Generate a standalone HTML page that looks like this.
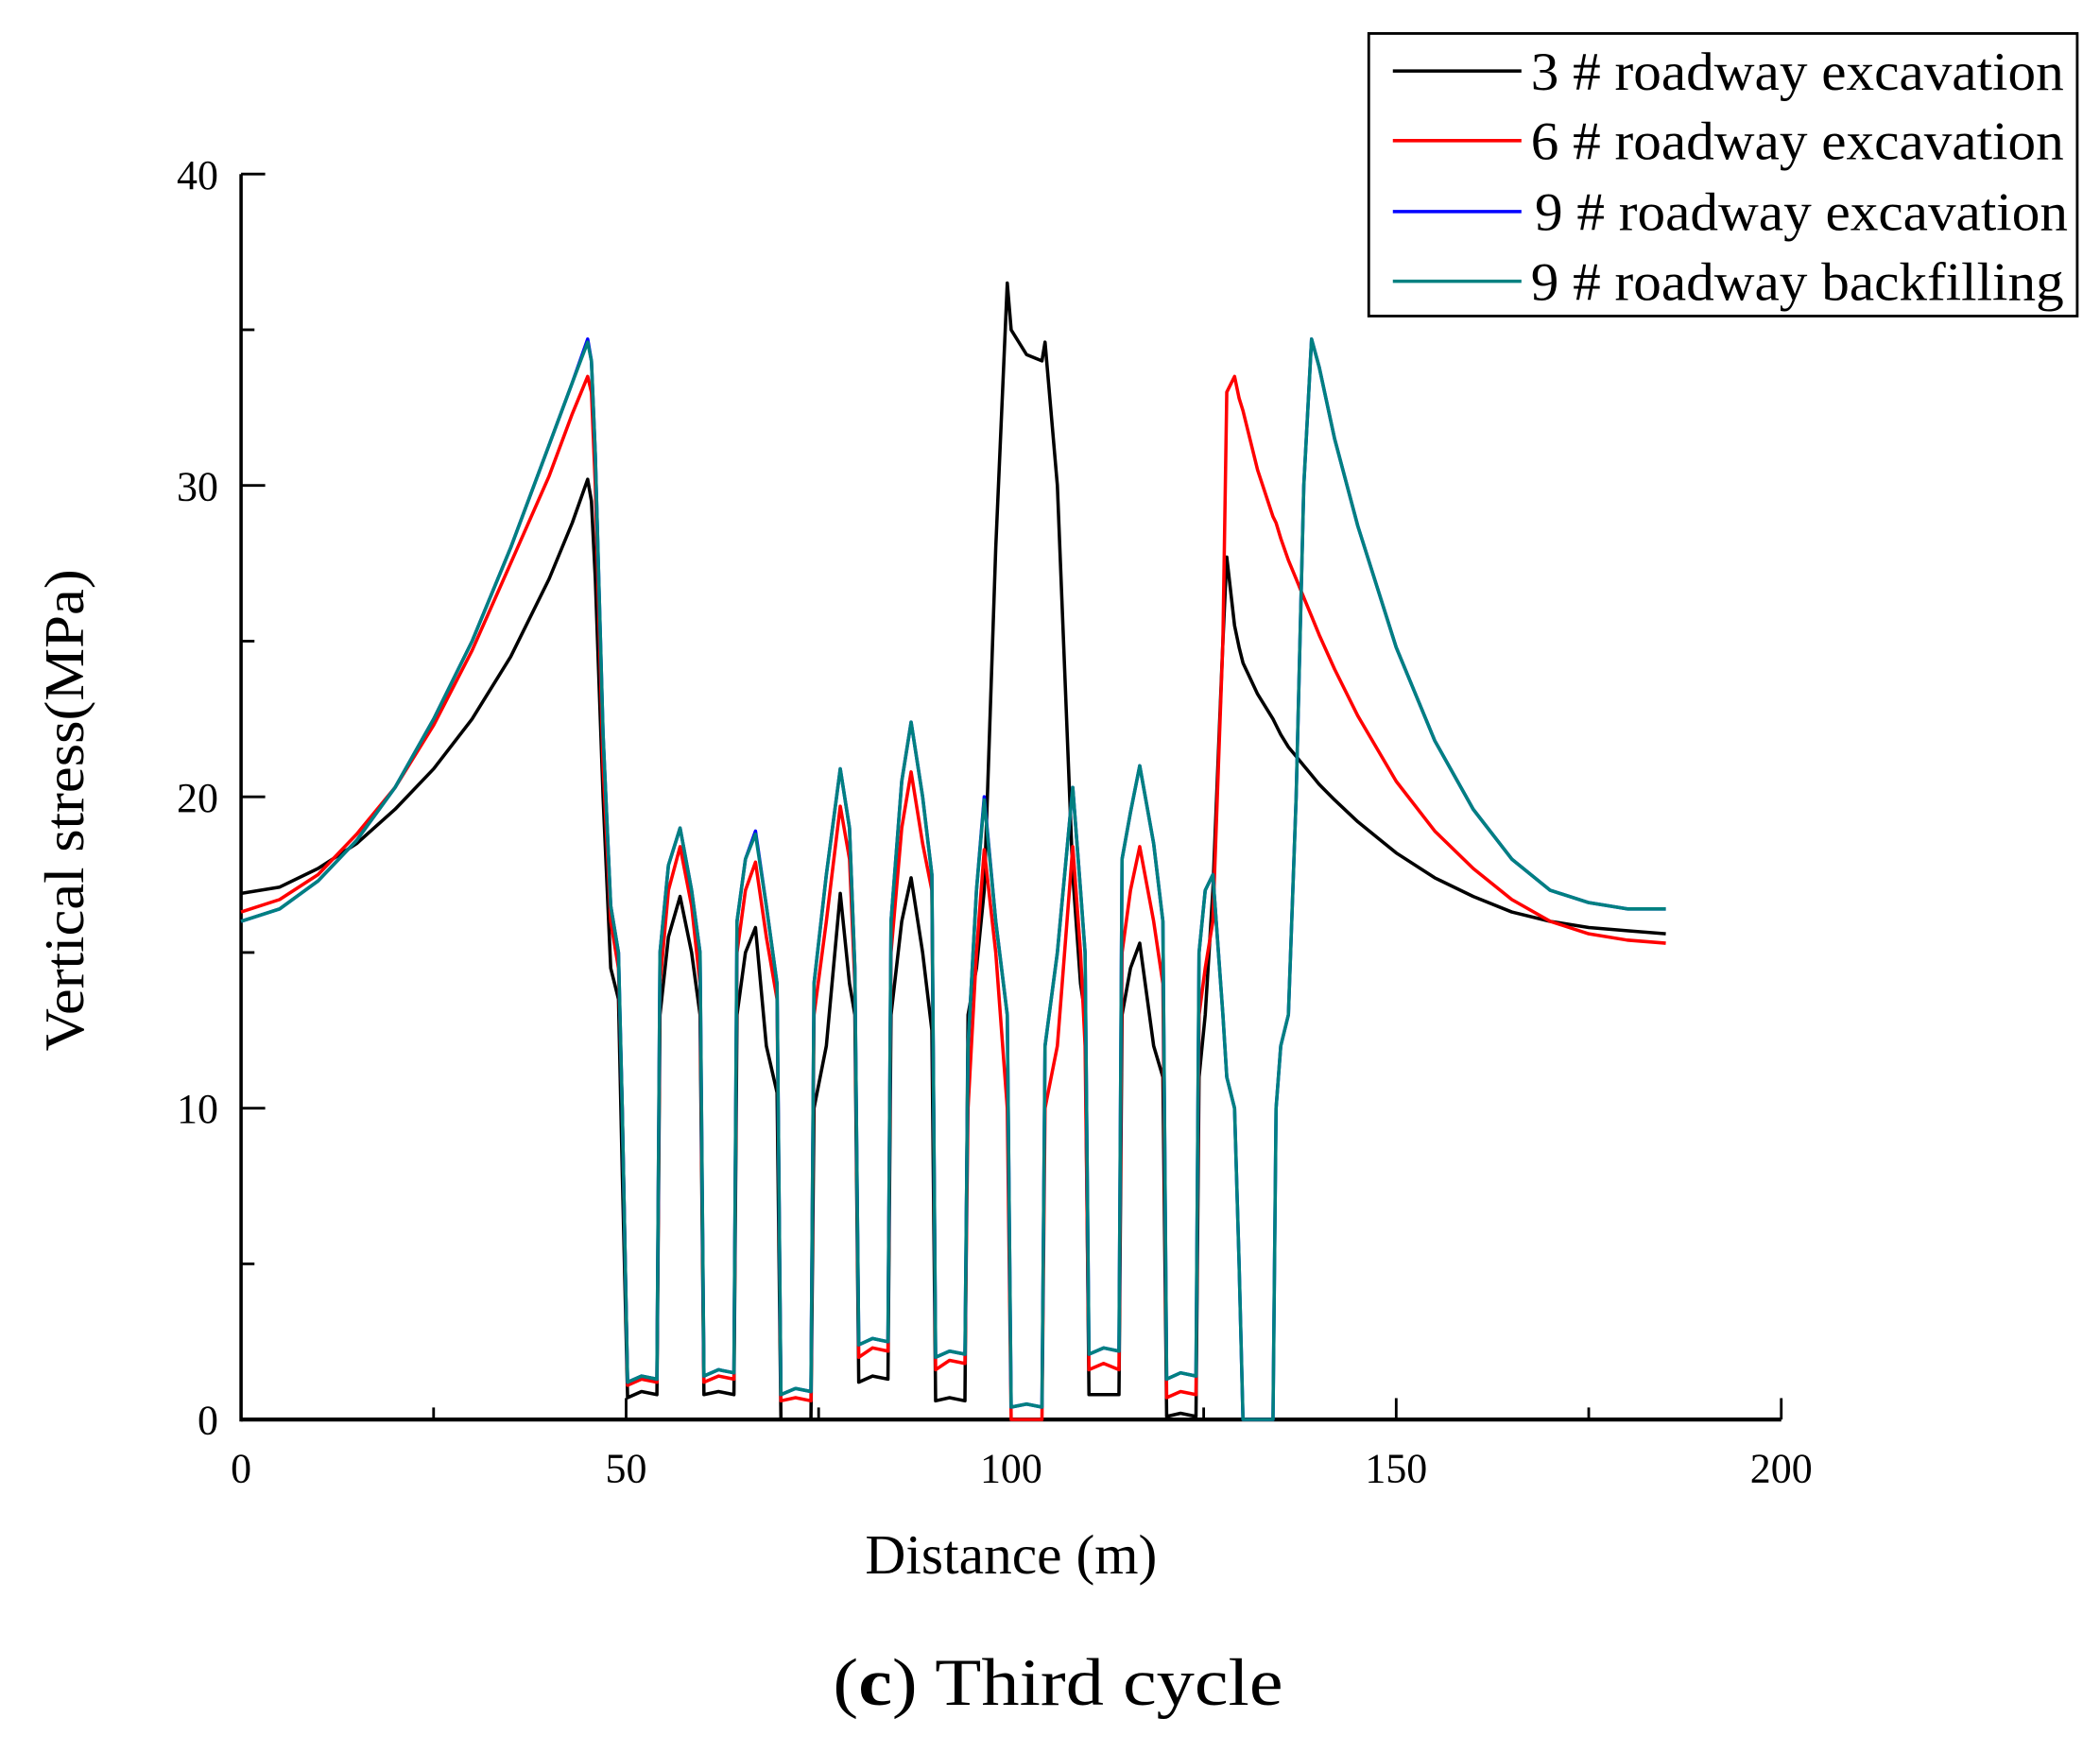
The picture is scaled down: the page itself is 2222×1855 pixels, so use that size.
<!DOCTYPE html>
<html><head><meta charset="utf-8"><style>
html,body{margin:0;padding:0;background:#fff;}
svg{display:block;}
text{font-family:"Liberation Serif",serif;fill:#000;}
</style></head><body>
<svg id="chart" width="2222" height="1855" viewBox="0 0 1568 1309" preserveAspectRatio="none" xmlns="http://www.w3.org/2000/svg">
<g id="axes"></g>
<g id="series"></g>
<g id="legend">
<rect x="1022" y="25" width="529" height="211" fill="#fff" stroke="#000" stroke-width="2"/>
<line x1="1040" y1="53" x2="1136" y2="53" stroke="#000" stroke-width="2.5"/>
<text x="1143" y="67" font-size="40" textLength="398" lengthAdjust="spacingAndGlyphs">3 # roadway excavation</text>
<line x1="1040" y1="105" x2="1136" y2="105" stroke="#f00" stroke-width="2.5"/>
<text x="1143" y="119" font-size="40" textLength="398" lengthAdjust="spacingAndGlyphs">6 # roadway excavation</text>
<line x1="1040" y1="158" x2="1136" y2="158" stroke="#00f" stroke-width="2.5"/>
<text x="1146" y="172" font-size="40" textLength="398" lengthAdjust="spacingAndGlyphs">9 # roadway excavation</text>
<line x1="1040" y1="210" x2="1136" y2="210" stroke="#008080" stroke-width="2.5"/>
<text x="1143" y="224" font-size="40" textLength="398" lengthAdjust="spacingAndGlyphs">9 # roadway backfilling</text>
</g>
<text x="755" y="1175" font-size="42" text-anchor="middle" textLength="218" lengthAdjust="spacingAndGlyphs">Distance (m)</text>
<text transform="translate(62,605) rotate(-90)" font-size="42" text-anchor="middle" textLength="360" lengthAdjust="spacingAndGlyphs">Vertical stress(MPa)</text>
<text x="790" y="1273" font-size="50" text-anchor="middle" textLength="336" lengthAdjust="spacingAndGlyphs">(<tspan font-weight="bold">c</tspan>) Third cycle</text>
</svg>
<script>
const xTicks = [0, 50, 100, 150, 200];
const xMinor = [25, 75, 125, 175];
const yTicks = [0, 10, 20, 30, 40];
const yMinor = [5, 15, 25, 35];
const xs = [0,5,10,15,20,25,30,35,40,43,45,45.5,46,47,48,49,49.5,50.2,52,54,
54.4,55.5,57,58.5,59.6,60.1,62,64,
64.4,65.5,66.8,68.2,69.6,70.1,72,74,
74.4,76,77.8,79,79.7,80.2,82,84,
84.4,85.8,87,88.5,89.7,90.2,92,94,
94.4,95.5,96.5,98,99.5,100,102,104,
104.4,106,108,109,109.6,110.1,112,114,
114.4,115.5,116.7,118.5,119.7,120.2,122,124,
124.4,125.2,126.2,127.5,128,129,129.6,130.1,132,134,
134.4,135,136,137,138,139,140,142,145,150,155,160,165,170,175,180,185];
const black = [16.9,17.1,17.7,18.5,19.6,20.9,22.5,24.5,27,28.8,30.2,29.5,27,20,14.5,13.5,8,0.7,0.9,0.8,
13,15.5,16.8,15,13,0.8,0.9,0.8,
13,15,15.8,12,10.5,0,0,0,
10,12,16.9,14,13,1.2,1.4,1.3,
13,16,17.4,15,12.5,0.6,0.7,0.6,
13,14.5,17,28,36.5,35,34.2,34,
34.6,30,17.5,14,13,0.8,0.8,0.8,
13,14.5,15.3,12,11,0.1,0.2,0.1,
11,13,17,25,27.7,25.5,24.8,24.3,23.3,22.5,
22.3,22.0,21.6,21.3,21.0,20.7,20.4,19.9,19.2,18.2,17.4,16.8,16.3,16.0,15.8,15.7,15.6];
const red = [16.3,16.7,17.5,18.8,20.3,22.3,24.7,27.5,30.3,32.3,33.5,33,30,21,16,14.5,10,1.1,1.3,1.2,
14,17,18.4,16.5,14,1.2,1.4,1.3,
15,17,17.9,15.5,13.5,0.6,0.7,0.6,
13,16,19.7,18,14,2.0,2.3,2.2,
15,19,20.8,18.5,17,1.6,1.9,1.8,
10,15,18.3,15,10,0,0,0,
10,12,18.4,15,12,1.6,1.8,1.6,
15,17,18.4,16,14,0.7,0.9,0.8,
13,14.5,16,25,33,33.5,32.8,32.4,30.5,29,
28.8,28.3,27.6,27,26.4,25.8,25.2,24.1,22.6,20.5,18.9,17.7,16.7,16.0,15.6,15.4,15.3];
const blue = [16,16.4,17.3,18.6,20.3,22.5,25,28,31.3,33.3,34.7,34,31,22,16.5,15,10,1.2,1.4,1.3,
15,17.8,19,17,15,1.4,1.6,1.5,
16,18,18.9,16.5,14,0.8,1.0,0.9,
14,17.5,20.9,19,14.5,2.4,2.6,2.5,
16,20.5,22.4,20,17.5,2.0,2.2,2.1,
12,17,20,16,13,0.4,0.5,0.4,
12,15,20.3,17,15,2.1,2.3,2.2,
18,19.5,21,18.5,16,1.3,1.5,1.4,
15,17,17.5,13,11,10,5,0,0,0,
10,12,13,20,30,34.7,33.8,31.5,28.7,24.8,21.8,19.6,18.0,17.0,16.6,16.4,16.4];
const teal = [16,16.4,17.3,18.6,20.3,22.5,25,28,31.3,33.3,34.6,34,31,22,16.5,15,10,1.2,1.4,1.3,
15,17.8,19,17,15,1.4,1.6,1.5,
16,18,18.8,16.5,14,0.8,1.0,0.9,
14,17.5,20.9,19,14.5,2.4,2.6,2.5,
16,20.5,22.4,20,17.5,2.0,2.2,2.1,
12,17,19.9,16,13,0.4,0.5,0.4,
12,15,20.3,17,15,2.1,2.3,2.2,
18,19.5,21,18.5,16,1.3,1.5,1.4,
15,17,17.5,13,11,10,5,0,0,0,
10,12,13,20,30,34.7,33.8,31.5,28.7,24.8,21.8,19.6,18.0,17.0,16.6,16.4,16.4];

const NS = 'http://www.w3.org/2000/svg';
const X0 = 180, X1 = 1330, Y0 = 1060, Y1 = 130;
function sx(v){ return X0 + (v - 0) / 200 * (X1 - X0); }
function sy(v){ return Y0 - (v - 0) / 40 * (Y0 - Y1); }
function mk(tag, attrs, parent){
  const e = document.createElementNS(NS, tag);
  for (const k in attrs) e.setAttribute(k, attrs[k]);
  parent.appendChild(e);
  return e;
}
const axes = document.getElementById('axes');
let el = mk('line', {x1:X0, y1:Y0, x2:X1, y2:Y0, stroke:'#000', 'stroke-width':3}, axes);


el = mk('line', {x1:X0, y1:Y0+1.5, x2:X0, y2:Y1, stroke:'#000', 'stroke-width':2.5}, axes);


xTicks.forEach(v => {
  const t = mk('line', {x1:sx(v), y1:Y0, x2:sx(v), y2:Y0-16, stroke:'#000', 'stroke-width':2}, axes);
  
  
  const l = mk('text', {x:sx(v), y:1107, 'font-size':31, 'text-anchor':'middle'}, axes);
  l.textContent = v;
  
  
});
xMinor.forEach(v => {
  const t = mk('line', {x1:sx(v), y1:Y0, x2:sx(v), y2:Y0-9, stroke:'#000', 'stroke-width':2}, axes);
  
  
});
yTicks.forEach(v => {
  const t = mk('line', {x1:X0, y1:sy(v), x2:X0+18, y2:sy(v), stroke:'#000', 'stroke-width':2}, axes);
  
  
  const l = mk('text', {x:163, y:sy(v)+11, 'font-size':31, 'text-anchor':'end'}, axes);
  l.textContent = v;
  
  
});
yMinor.forEach(v => {
  const t = mk('line', {x1:X0, y1:sy(v), x2:X0+10, y2:sy(v), stroke:'#000', 'stroke-width':2}, axes);
  
  
});
const sg = document.getElementById('series');
function draw(ys, color, name){
  const d = xs.map((x,i) => (i ? 'L' : 'M') + sx(x).toFixed(1) + ' ' + sy(ys[i]).toFixed(1)).join(' ');
  const p = mk('path', {d:d, fill:'none', stroke:color, 'stroke-width':2.5, 'stroke-linejoin':'round'}, sg);
  
  
}
draw(black, '#000', 'series-3-excavation');
draw(red, '#f00', 'series-6-excavation');
draw(blue, '#00f', 'series-9-excavation');
draw(teal, '#008080', 'series-9-backfilling');
</script>
</body></html>
